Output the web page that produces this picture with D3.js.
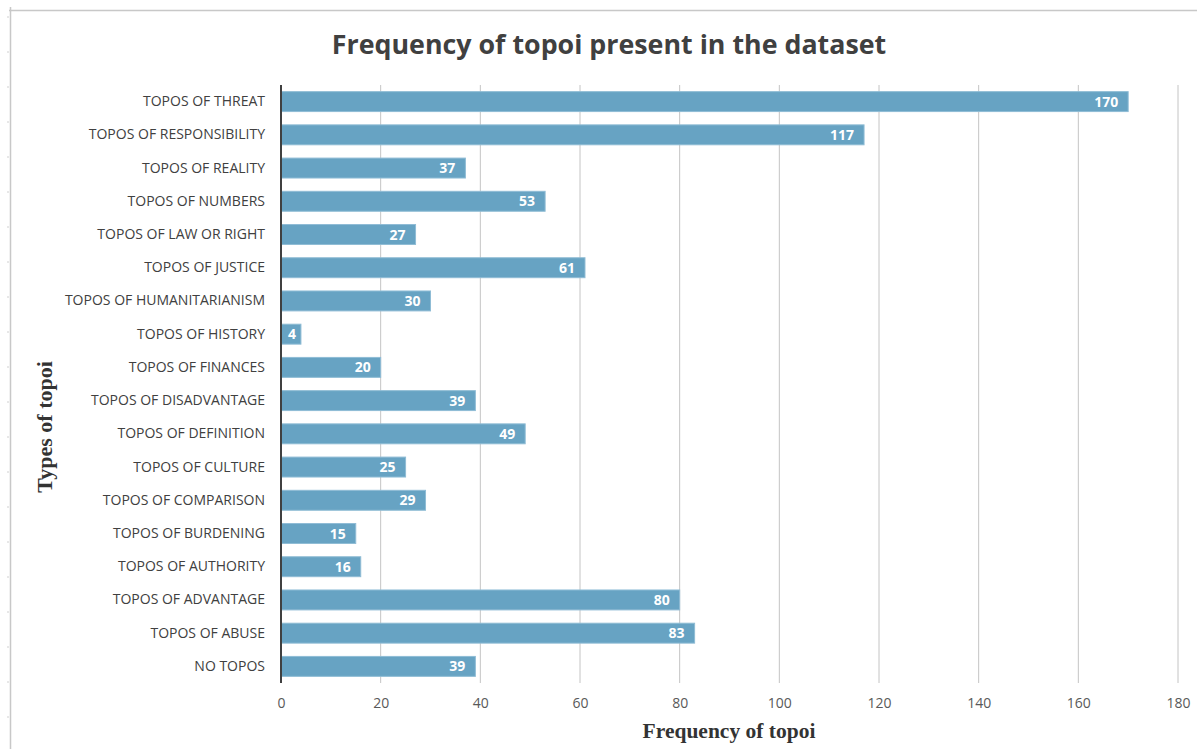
<html>
<head>
  <title>Frequency of topoi</title>
</head>
<style>
  body {
    margin: 0;
    background: #fff;
  }
  .cat text {
    font-family: "Open Sans", sans-serif;
    font-size: 14px;
    fill: #404040;
  }
  .xaxis text {
    font-family: "Open Sans", sans-serif;
    font-size: 14px;
    fill: #595959;
  }
  .val {
    font-family: "Open Sans", sans-serif;
    font-size: 14px;
    font-weight: bold;
    fill: #fff;
  }
</style>
<body>
  <div id="chart"></div>
</body>
<script src="https://cdn.jsdelivr.net/npm/d3@7"></script>
<script>
  let categories = ["TOPOS OF THREAT", "TOPOS OF RESPONSIBILITY", "TOPOS OF REALITY", "TOPOS OF NUMBERS",
    "TOPOS OF LAW OR RIGHT", "TOPOS OF JUSTICE", "TOPOS OF HUMANITARIANISM", "TOPOS OF HISTORY",
    "TOPOS OF FINANCES", "TOPOS OF DISADVANTAGE", "TOPOS OF DEFINITION", "TOPOS OF CULTURE",
    "TOPOS OF COMPARISON", "TOPOS OF BURDENING", "TOPOS OF AUTHORITY", "TOPOS OF ADVANTAGE",
    "TOPOS OF ABUSE", "NO TOPOS"];
  let values = [170, 117, 37, 53, 27, 61, 30, 4, 20, 39, 49, 25, 29, 15, 16, 80, 83, 39];
  let xTicks = [0, 20, 40, 60, 80, 100, 120, 140, 160, 180];

  let width = 1198, height = 749;
  let plotLeft = 281, plotRight = 1178, plotTop = 85, plotBottom = 683;

  let svg = d3.select("#chart").append("svg")
    .attr("width", width)
    .attr("height", height);

  // frame like the spreadsheet chart area
  svg.append("line").attr("x1", 9).attr("x2", 1197).attr("y1", 10.5).attr("y2", 10.5)
    .attr("stroke", "#c8c8c8").attr("stroke-width", 1.5);
  svg.append("line").attr("x1", 10.5).attr("x2", 10.5).attr("y1", 7).attr("y2", 749)
    .attr("stroke", "#c8c8c8").attr("stroke-width", 1.5);
  for (let yy = 17; yy < 749; yy += 35) {
    svg.append("line").attr("x1", 7).attr("x2", 9).attr("y1", yy).attr("y2", yy)
      .attr("stroke", "#d0d0d0");
  }

  let x = d3.scaleLinear().domain([0, 180]).range([plotLeft, plotRight]);
  let y = d3.scaleBand().domain(categories).range([plotTop, plotBottom]).paddingInner(0.4).paddingOuter(0.2);

  // gridlines
  svg.append("g").selectAll("line").data(xTicks.slice(1)).join("line")
    .attr("x1", d => x(d)).attr("x2", d => x(d))
    .attr("y1", plotTop).attr("y2", plotBottom)
    .attr("stroke", "#c4c4c4").attr("stroke-width", 1);

  // bars
  svg.append("g").selectAll("rect").data(values).join("rect")
    .attr("x", plotLeft)
    .attr("y", (d, i) => y(categories[i]))
    .attr("width", d => x(d) - plotLeft)
    .attr("height", y.bandwidth())
    .attr("fill", "#67a3c3")
    .attr("stroke", "#8fbcd5")
    .attr("stroke-width", 1);

  // value labels (short bars get less end padding so the label stays inside)
  svg.append("g").selectAll("text").data(values).join("text")
    .attr("class", "val")
    .attr("x", d => x(d) - (d < 10 ? 5 : 10))
    .attr("y", (d, i) => y(categories[i]) + y.bandwidth() / 2)
    .attr("dy", "0.36em")
    .attr("text-anchor", "end")
    .text(d => d);

  // category axis
  let yAxis = svg.append("g").attr("class", "cat")
    .attr("transform", `translate(${plotLeft},0)`)
    .call(d3.axisLeft(y).tickSize(0).tickPadding(16));
  yAxis.select(".domain").remove();
  svg.append("line").attr("x1", plotLeft).attr("x2", plotLeft).attr("y1", plotTop).attr("y2", plotBottom)
    .attr("stroke", "#404040").attr("stroke-width", 2);

  // value axis
  let xAxis = svg.append("g").attr("class", "xaxis")
    .attr("transform", `translate(0,${plotBottom})`)
    .call(d3.axisBottom(x).tickValues(xTicks).tickSize(0).tickPadding(15));
  xAxis.select(".domain").remove();

  // titles
  svg.append("text")
    .attr("x", 609).attr("y", 54)
    .attr("text-anchor", "middle")
    .style("font-family", "'Open Sans', sans-serif")
    .style("font-size", "26.8px").style("font-weight", "bold")
    .style("fill", "#404040")
    .text("Frequency of topoi present in the dataset");

  svg.append("text")
    .attr("x", 729).attr("y", 738)
    .attr("text-anchor", "middle")
    .style("font-family", "'Liberation Serif', 'Times New Roman', serif")
    .style("font-size", "21.5px").style("font-weight", "bold")
    .style("fill", "#333")
    .text("Frequency of topoi");

  svg.append("text")
    .attr("transform", "translate(52,427) rotate(-90)")
    .attr("text-anchor", "middle")
    .style("font-family", "'Liberation Serif', 'Times New Roman', serif")
    .style("font-size", "22px").style("font-weight", "bold")
    .style("fill", "#333")
    .text("Types of topoi");
</script>
</html>
